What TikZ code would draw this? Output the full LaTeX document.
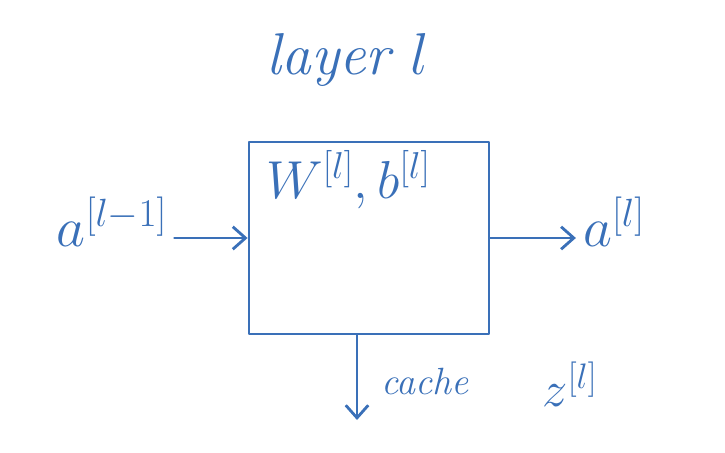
\RequirePackage{fix-cm}
\documentclass[tikz,border=0pt]{standalone}
\usepackage{amsmath}
\usepackage{xcolor}
\usepackage{tikz}
\usetikzlibrary{arrows.meta}
\definecolor{ink}{HTML}{3A70B8}
\tikzset{
  line/.style={draw=ink, line width=2pt, line cap=round, line join=round},
  arr/.style={line, -{Straight Barb[length=9pt,width=16pt,line width=2pt]}},
  lbl/.style={text=ink, inner sep=1pt},
  big/.style={lbl, font=\fontsize{40}{48}\selectfont},
  mid/.style={lbl, font=\fontsize{38}{44}\selectfont},
  small/.style={lbl, font=\fontsize{27}{32}\selectfont\itshape}
}
\begin{document}
\begin{tikzpicture}[x=0.025cm,y=-0.025cm]
  \useasboundingbox (0,0) rectangle (725,453);

  % the layer block
  \node[line, minimum width=6cm, minimum height=4.8cm] (layer) at (369,238) {};
  \node[mid, anchor=north west] (wb) at ([xshift=12pt,yshift=-6pt]layer.north west) {$W^{[l]}, b^{[l]}$};
  \node[lbl, font=\fontsize{42}{50}\selectfont\itshape] (title) at (348,60) {layer $l$};

  % inputs and outputs
  \node[big] (ain) at (112,222) {$a^{[l-1]}$};
  \node[big] (aout) at (614,222) {$a^{[l]}$};
  \coordinate (down) at (357,420);
  \node[small, anchor=west] (cache) at (380,382) {cache};
  \node[big, font=\fontsize{36}{44}\selectfont] (zl) at (570,384) {$z^{[l]}$};

  \draw[arr] ([xshift=4pt]ain.east |- layer.west) -- (layer.west);
  \draw[arr] (layer.east) -- ([xshift=-4pt]aout.west |- layer.east);
  \draw[arr] (layer.south -| down) -- (down);
\end{tikzpicture}
\end{document}
